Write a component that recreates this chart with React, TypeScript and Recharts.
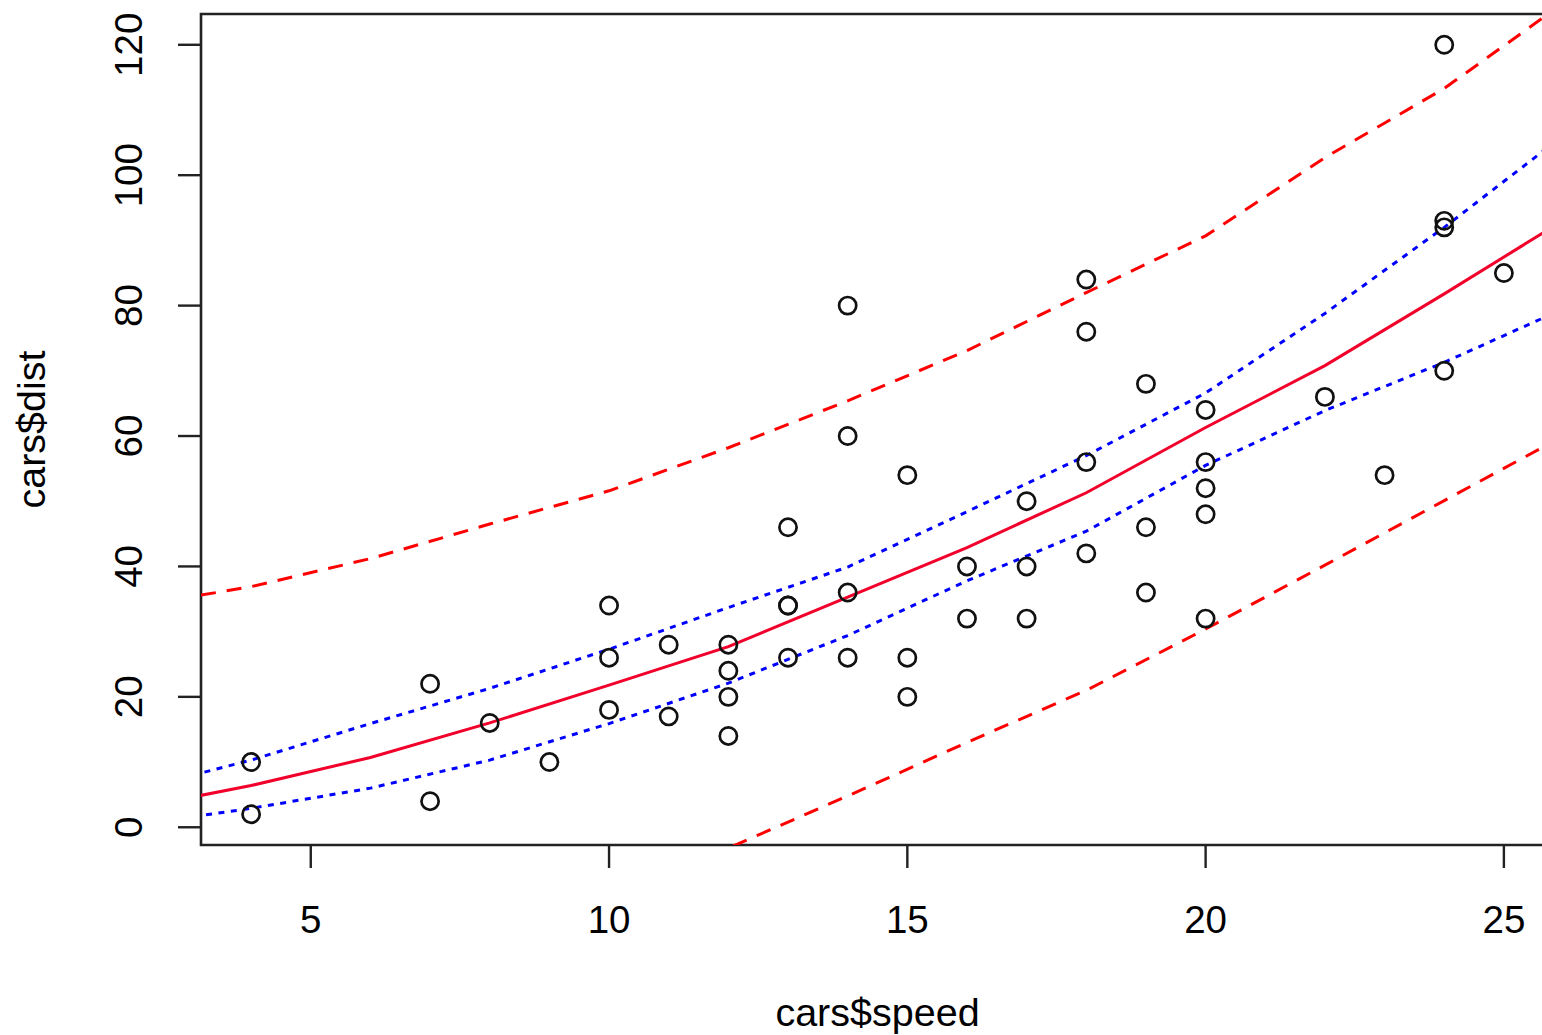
import {
  ComposedChart,
  Line,
  Scatter,
  XAxis,
  YAxis,
  ReferenceArea,
} from 'recharts'

// cars data set
const speed = [4, 4, 7, 7, 8, 9, 10, 10, 10, 11, 11, 12, 12, 12, 12, 13, 13, 13, 13, 14, 14, 14, 14, 15, 15, 15, 16, 16, 17, 17, 17, 18, 18, 18, 18, 19, 19, 19, 20, 20, 20, 20, 20, 22, 23, 24, 24, 24, 24, 25]
const dist = [2, 10, 4, 22, 16, 10, 18, 26, 34, 17, 28, 14, 20, 24, 28, 26, 34, 34, 46, 26, 36, 60, 80, 20, 26, 54, 32, 40, 32, 40, 50, 42, 56, 76, 84, 36, 46, 68, 32, 48, 52, 56, 64, 66, 54, 70, 92, 93, 120, 85]

// fitted curve and bands at even speeds
const gridSpeed = [2, 4, 6, 8, 10, 12, 14, 16, 18, 20, 22, 24, 26]
const fit = [2.8, 6.4, 10.7, 16.0, 21.8, 27.7, 35.3, 42.9, 51.3, 61.3, 70.8, 81.8, 93.1]
const confUpper = [5.6, 10.3, 15.9, 21.3, 27.3, 33.7, 39.9, 48.4, 57.0, 66.6, 78.8, 92.0, 106.1]
const confLower = [0.3, 2.9, 6.0, 10.3, 15.9, 22.1, 29.4, 37.8, 45.4, 55.5, 63.9, 71.3, 79.5]
const predUpper = [33.8, 36.9, 41.2, 46.5, 51.6, 58.2, 65.4, 73.1, 82.0, 90.7, 102.7, 113.3, 126.4]
const predLower = [-28, -24, -20, -15, -8, -3.2, 4.8, 13.0, 21.0, 30.4, 40.2, 50.1, 60.0]

const xTicks = [5, 10, 15, 20, 25]
const yTicks = [0, 20, 40, 60, 80, 100, 120]

const X_DOMAIN: [number, number] = [3.16, 25.84]
const Y_DOMAIN: [number, number] = [-2.72, 124.72]

const FONT = '"Liberation Sans", Arial, Helvetica, sans-serif'

const points = speed.map((s, i) => ({ x: s, y: dist[i] }))
const toSeries = (ys: number[]) => gridSpeed.map((x, i) => ({ x, y: ys[i] }))

const XTick = ({ x, y, payload }: any) => (
  <text x={x} y={y + 65} textAnchor="middle" fontSize={38.5} fontFamily={FONT} fill="#000">
    {payload.value}
  </text>
)

const YTick = ({ x, y, payload }: any) => {
  const bx = x - 36
  return (
    <text
      x={bx}
      y={y}
      transform={`rotate(-90, ${bx}, ${y})`}
      textAnchor="middle"
      fontSize={38.5}
      fontFamily={FONT}
      fill="#000"
    >
      {payload.value}
    </text>
  )
}

const XLabel = ({ viewBox }: any) => (
  <text
    x={viewBox.x + viewBox.width / 2}
    y={viewBox.y + 181}
    textAnchor="middle"
    fontSize={39.5}
    fontFamily={FONT}
    fill="#000"
  >
    cars$speed
  </text>
)

const YLabel = ({ viewBox }: any) => {
  const cx = 45
  const cy = viewBox.y + viewBox.height / 2
  return (
    <text
      x={cx}
      y={cy}
      transform={`rotate(-90, ${cx}, ${cy})`}
      textAnchor="middle"
      fontSize={39.5}
      fontFamily={FONT}
      fill="#000"
    >
      cars$dist
    </text>
  )
}

const OpenCircle = (p: any) => (
  <circle cx={p.cx} cy={p.cy} r={8.6} fill="none" stroke="#111" strokeWidth={2.7} />
)

const bandProps = {
  dataKey: 'y',
  type: 'linear' as const,
  strokeWidth: 3,
  dot: false,
  activeDot: false,
  isAnimationActive: false,
}

export default function App() {
  return (
    <div style={{ position: 'absolute', left: 0, top: 0, background: '#fff' }}>
      <ComposedChart
        width={1542}
        height={1035}
        margin={{ top: 14, right: -12, bottom: 0, left: 0 }}
      >
        <XAxis
          type="number"
          dataKey="x"
          domain={X_DOMAIN}
          allowDataOverflow
          ticks={xTicks}
          height={190}
          axisLine={false}
          tickSize={23}
          tickMargin={0}
          tickLine={{ stroke: '#222', strokeWidth: 2.4 }}
          tick={<XTick />}
          label={<XLabel />}
        />
        <YAxis
          type="number"
          dataKey="y"
          domain={Y_DOMAIN}
          allowDataOverflow
          ticks={yTicks}
          width={201}
          axisLine={false}
          tickSize={23}
          tickMargin={0}
          tickLine={{ stroke: '#222', strokeWidth: 2.4 }}
          tick={<YTick />}
          label={<YLabel />}
        />
        <ReferenceArea
          x1={X_DOMAIN[0]}
          x2={X_DOMAIN[1]}
          y1={Y_DOMAIN[0]}
          y2={Y_DOMAIN[1]}
          fill="none"
          stroke="#222"
          strokeWidth={2.6}
          ifOverflow="visible"
        />
        <Scatter data={points} dataKey="y" shape={<OpenCircle />} isAnimationActive={false} />
        <Line
          {...bandProps}
          data={toSeries(predUpper)}
          stroke="#ff0000"
          strokeDasharray="15 11"
          strokeDashoffset={7.8}
        />
        <Line
          {...bandProps}
          data={toSeries(predLower)}
          stroke="#ff0000"
          strokeDasharray="15 11"
        />
        <Line
          {...bandProps}
          data={toSeries(confUpper)}
          stroke="#0000ff"
          strokeDasharray="6 6.5"
        />
        <Line
          {...bandProps}
          data={toSeries(confLower)}
          stroke="#0000ff"
          strokeDasharray="6 6.5"
        />
        <Line {...bandProps} data={toSeries(fit)} stroke="#f0002a" />
      </ComposedChart>
    </div>
  )
}
